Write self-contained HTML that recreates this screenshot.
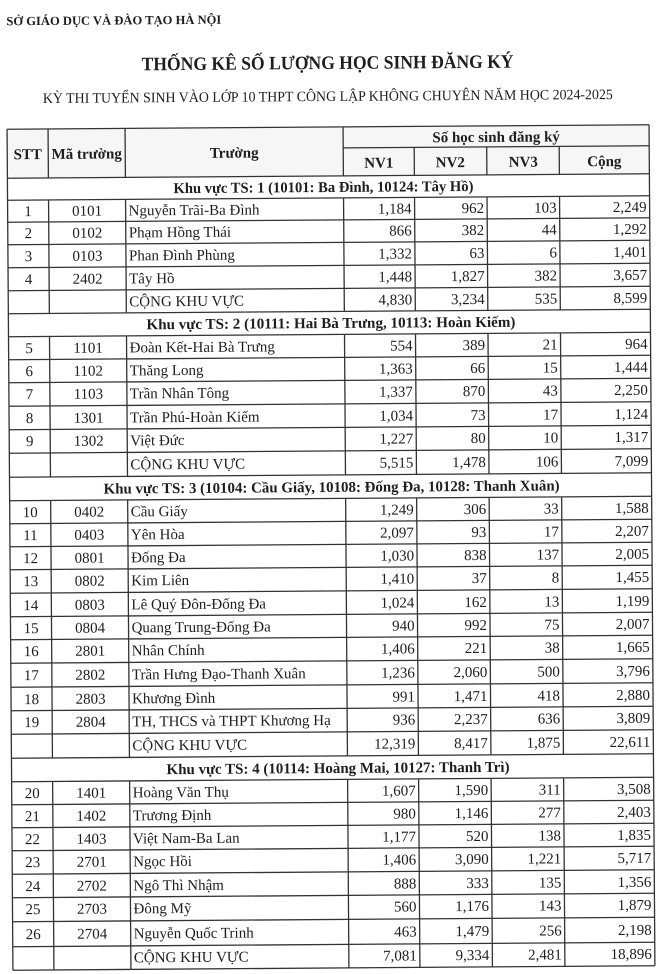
<!DOCTYPE html>
<html><head><meta charset="utf-8">
<style>
html,body{margin:0;padding:0;background:#fff;}
svg{display:block;}
.t{font-family:"Liberation Serif","DejaVu Serif",serif;font-size:15px;fill:#1e1e1e;}
.b{font-weight:bold;}
.r{text-anchor:end;}
.c{text-anchor:middle;}
.ln line{stroke:#333;stroke-width:1.3;}
</style></head>
<body>
<svg width="660" height="974" viewBox="0 0 660 974" xmlns="http://www.w3.org/2000/svg">
<rect width="660" height="974" fill="#fff"/>
<g transform="rotate(-0.4 330 550)">
<text class="t b" x="10" y="23" style="font-size:12.5px" textLength="215" lengthAdjust="spacingAndGlyphs">SỞ GIÁO DỤC VÀ ĐÀO TẠO HÀ NỘI</text>
<text class="t b" x="145" y="69" style="font-size:19px" textLength="372" lengthAdjust="spacingAndGlyphs">THỐNG KÊ SỐ LƯỢNG HỌC SINH ĐĂNG KÝ</text>
<text class="t" x="46" y="101" style="font-size:14.5px" textLength="570" lengthAdjust="spacingAndGlyphs">KỲ THI TUYỂN SINH VÀO LỚP 10 THPT CÔNG LẬP KHÔNG CHUYÊN NĂM HỌC 2024-2025</text>

<rect x="10" y="127" width="642" height="49" fill="#f6f6f6"/>

<g class="ln">
<line x1="10" y1="127" x2="652" y2="127"/>
<line x1="346" y1="148" x2="652" y2="148"/>
<line x1="10" y1="176" x2="652" y2="176"/>
<line x1="10" y1="198" x2="652" y2="198"/>
<line x1="10" y1="220" x2="652" y2="220"/>
<line x1="10" y1="242.5" x2="652" y2="242.5"/>
<line x1="10" y1="265.5" x2="652" y2="265.5"/>
<line x1="10" y1="288.5" x2="652" y2="288.5"/>
<line x1="10" y1="311.5" x2="652" y2="311.5"/>
<line x1="10" y1="334.5" x2="652" y2="334.5"/>
<line x1="10" y1="357.5" x2="652" y2="357.5"/>
<line x1="10" y1="380.5" x2="652" y2="380.5"/>
<line x1="10" y1="404" x2="652" y2="404"/>
<line x1="10" y1="427.5" x2="652" y2="427.5"/>
<line x1="10" y1="451" x2="652" y2="451"/>
<line x1="10" y1="475" x2="652" y2="475"/>
<line x1="10" y1="498.5" x2="652" y2="498.5"/>
<line x1="10" y1="521.5" x2="652" y2="521.5"/>
<line x1="10" y1="544.5" x2="652" y2="544.5"/>
<line x1="10" y1="567.5" x2="652" y2="567.5"/>
<line x1="10" y1="591" x2="652" y2="591"/>
<line x1="10" y1="614.5" x2="652" y2="614.5"/>
<line x1="10" y1="637.5" x2="652" y2="637.5"/>
<line x1="10" y1="661" x2="652" y2="661"/>
<line x1="10" y1="685" x2="652" y2="685"/>
<line x1="10" y1="708.5" x2="652" y2="708.5"/>
<line x1="10" y1="732" x2="652" y2="732"/>
<line x1="10" y1="756" x2="652" y2="756"/>
<line x1="10" y1="779.5" x2="652" y2="779.5"/>
<line x1="10" y1="802.5" x2="652" y2="802.5"/>
<line x1="10" y1="825.5" x2="652" y2="825.5"/>
<line x1="10" y1="848.5" x2="652" y2="848.5"/>
<line x1="10" y1="872" x2="652" y2="872"/>
<line x1="10" y1="895.5" x2="652" y2="895.5"/>
<line x1="10" y1="919.5" x2="652" y2="919.5"/>
<line x1="10" y1="944.5" x2="652" y2="944.5"/>
<line x1="10" y1="968" x2="652" y2="968"/>

<line x1="10" y1="127" x2="10" y2="968"/>
<line x1="652" y1="127" x2="652" y2="968"/>

<line x1="51" y1="127" x2="51" y2="176"/>
<line x1="128" y1="127" x2="128" y2="176"/>
<line x1="346" y1="127" x2="346" y2="176"/>
<line x1="417" y1="148" x2="417" y2="176"/>
<line x1="489.5" y1="148" x2="489.5" y2="176"/>
<line x1="562" y1="148" x2="562" y2="176"/>

<line x1="51" y1="198" x2="51" y2="311.5"/>
<line x1="128" y1="198" x2="128" y2="311.5"/>
<line x1="346" y1="198" x2="346" y2="311.5"/>
<line x1="417" y1="198" x2="417" y2="311.5"/>
<line x1="489.5" y1="198" x2="489.5" y2="311.5"/>
<line x1="562" y1="198" x2="562" y2="311.5"/>

<line x1="51" y1="334.5" x2="51" y2="475"/>
<line x1="128" y1="334.5" x2="128" y2="475"/>
<line x1="346" y1="334.5" x2="346" y2="475"/>
<line x1="417" y1="334.5" x2="417" y2="475"/>
<line x1="489.5" y1="334.5" x2="489.5" y2="475"/>
<line x1="562" y1="334.5" x2="562" y2="475"/>

<line x1="51" y1="498.5" x2="51" y2="756"/>
<line x1="128" y1="498.5" x2="128" y2="756"/>
<line x1="346" y1="498.5" x2="346" y2="756"/>
<line x1="417" y1="498.5" x2="417" y2="756"/>
<line x1="489.5" y1="498.5" x2="489.5" y2="756"/>
<line x1="562" y1="498.5" x2="562" y2="756"/>

<line x1="51" y1="779.5" x2="51" y2="968"/>
<line x1="128" y1="779.5" x2="128" y2="968"/>
<line x1="346" y1="779.5" x2="346" y2="968"/>
<line x1="417" y1="779.5" x2="417" y2="968"/>
<line x1="489.5" y1="779.5" x2="489.5" y2="968"/>
<line x1="562" y1="779.5" x2="562" y2="968"/>
</g>

<!-- Header -->
<text class="t b c" x="30.5" y="157">STT</text>
<text class="t b c" x="89.5" y="157">Mã trường</text>
<text class="t b c" x="237" y="157">Trường</text>
<text class="t b c" x="499" y="143">Số học sinh đăng ký</text>
<text class="t b c" x="381.5" y="168">NV1</text>
<text class="t b c" x="453" y="168">NV2</text>
<text class="t b c" x="526" y="168">NV3</text>
<text class="t b c" x="607" y="168">Cộng</text>

<!-- Section 1 -->
<text class="t b" x="176" y="192" textLength="300" lengthAdjust="spacingAndGlyphs">Khu vực TS: 1 (10101: Ba Đình, 10124: Tây Hồ)</text>

<text class="t c" x="30.5" y="214">1</text><text class="t c" x="89.5" y="214">0101</text><text class="t" x="131" y="214">Nguyễn Trãi-Ba Đình</text>
<text class="t r" x="414" y="214">1,184</text><text class="t r" x="486.5" y="214">962</text><text class="t r" x="559" y="214">103</text><text class="t r" x="649" y="214">2,249</text>

<text class="t c" x="30.5" y="236">2</text><text class="t c" x="89.5" y="236">0102</text><text class="t" x="131" y="236">Phạm Hồng Thái</text>
<text class="t r" x="414" y="236">866</text><text class="t r" x="486.5" y="236">382</text><text class="t r" x="559" y="236">44</text><text class="t r" x="649" y="236">1,292</text>

<text class="t c" x="30.5" y="259">3</text><text class="t c" x="89.5" y="259">0103</text><text class="t" x="131" y="259">Phan Đình Phùng</text>
<text class="t r" x="414" y="259">1,332</text><text class="t r" x="486.5" y="259">63</text><text class="t r" x="559" y="259">6</text><text class="t r" x="649" y="259">1,401</text>

<text class="t c" x="30.5" y="282">4</text><text class="t c" x="89.5" y="282">2402</text><text class="t" x="131" y="282">Tây Hồ</text>
<text class="t r" x="414" y="282">1,448</text><text class="t r" x="486.5" y="282">1,827</text><text class="t r" x="559" y="282">382</text><text class="t r" x="649" y="282">3,657</text>

<text class="t" x="131" y="305">CỘNG KHU VỰC</text>
<text class="t r" x="414" y="305">4,830</text><text class="t r" x="486.5" y="305">3,234</text><text class="t r" x="559" y="305">535</text><text class="t r" x="649" y="305">8,599</text>

<!-- Section 2 -->
<text class="t b" x="148" y="328" textLength="369" lengthAdjust="spacingAndGlyphs">Khu vực TS: 2 (10111: Hai Bà Trưng, 10113: Hoàn Kiếm)</text>

<text class="t c" x="30.5" y="351">5</text><text class="t c" x="89.5" y="351">1101</text><text class="t" x="131" y="351">Đoàn Kết-Hai Bà Trưng</text>
<text class="t r" x="414" y="351">554</text><text class="t r" x="486.5" y="351">389</text><text class="t r" x="559" y="351">21</text><text class="t r" x="649" y="351">964</text>

<text class="t c" x="30.5" y="374">6</text><text class="t c" x="89.5" y="374">1102</text><text class="t" x="131" y="374">Thăng Long</text>
<text class="t r" x="414" y="374">1,363</text><text class="t r" x="486.5" y="374">66</text><text class="t r" x="559" y="374">15</text><text class="t r" x="649" y="374">1,444</text>

<text class="t c" x="30.5" y="397">7</text><text class="t c" x="89.5" y="397">1103</text><text class="t" x="131" y="397">Trần Nhân Tông</text>
<text class="t r" x="414" y="397">1,337</text><text class="t r" x="486.5" y="397">870</text><text class="t r" x="559" y="397">43</text><text class="t r" x="649" y="397">2,250</text>

<text class="t c" x="30.5" y="421">8</text><text class="t c" x="89.5" y="421">1301</text><text class="t" x="131" y="421">Trần Phú-Hoàn Kiếm</text>
<text class="t r" x="414" y="421">1,034</text><text class="t r" x="486.5" y="421">73</text><text class="t r" x="559" y="421">17</text><text class="t r" x="649" y="421">1,124</text>

<text class="t c" x="30.5" y="444">9</text><text class="t c" x="89.5" y="444">1302</text><text class="t" x="131" y="444">Việt Đức</text>
<text class="t r" x="414" y="444">1,227</text><text class="t r" x="486.5" y="444">80</text><text class="t r" x="559" y="444">10</text><text class="t r" x="649" y="444">1,317</text>

<text class="t" x="131" y="468">CỘNG KHU VỰC</text>
<text class="t r" x="414" y="468">5,515</text><text class="t r" x="486.5" y="468">1,478</text><text class="t r" x="559" y="468">106</text><text class="t r" x="649" y="468">7,099</text>

<!-- Section 3 -->
<text class="t b" x="104" y="492" textLength="456" lengthAdjust="spacingAndGlyphs">Khu vực TS: 3 (10104: Cầu Giấy, 10108: Đống Đa, 10128: Thanh Xuân)</text>

<text class="t c" x="30.5" y="515">10</text><text class="t c" x="89.5" y="515">0402</text><text class="t" x="131" y="515">Cầu Giấy</text>
<text class="t r" x="414" y="515">1,249</text><text class="t r" x="486.5" y="515">306</text><text class="t r" x="559" y="515">33</text><text class="t r" x="649" y="515">1,588</text>

<text class="t c" x="30.5" y="538">11</text><text class="t c" x="89.5" y="538">0403</text><text class="t" x="131" y="538">Yên Hòa</text>
<text class="t r" x="414" y="538">2,097</text><text class="t r" x="486.5" y="538">93</text><text class="t r" x="559" y="538">17</text><text class="t r" x="649" y="538">2,207</text>

<text class="t c" x="30.5" y="561">12</text><text class="t c" x="89.5" y="561">0801</text><text class="t" x="131" y="561">Đống Đa</text>
<text class="t r" x="414" y="561">1,030</text><text class="t r" x="486.5" y="561">838</text><text class="t r" x="559" y="561">137</text><text class="t r" x="649" y="561">2,005</text>

<text class="t c" x="30.5" y="584">13</text><text class="t c" x="89.5" y="584">0802</text><text class="t" x="131" y="584">Kim Liên</text>
<text class="t r" x="414" y="584">1,410</text><text class="t r" x="486.5" y="584">37</text><text class="t r" x="559" y="584">8</text><text class="t r" x="649" y="584">1,455</text>

<text class="t c" x="30.5" y="608">14</text><text class="t c" x="89.5" y="608">0803</text><text class="t" x="131" y="608">Lê Quý Đôn-Đống Đa</text>
<text class="t r" x="414" y="608">1,024</text><text class="t r" x="486.5" y="608">162</text><text class="t r" x="559" y="608">13</text><text class="t r" x="649" y="608">1,199</text>

<text class="t c" x="30.5" y="631">15</text><text class="t c" x="89.5" y="631">0804</text><text class="t" x="131" y="631">Quang Trung-Đống Đa</text>
<text class="t r" x="414" y="631">940</text><text class="t r" x="486.5" y="631">992</text><text class="t r" x="559" y="631">75</text><text class="t r" x="649" y="631">2,007</text>

<text class="t c" x="30.5" y="654">16</text><text class="t c" x="89.5" y="654">2801</text><text class="t" x="131" y="654">Nhân Chính</text>
<text class="t r" x="414" y="654">1,406</text><text class="t r" x="486.5" y="654">221</text><text class="t r" x="559" y="654">38</text><text class="t r" x="649" y="654">1,665</text>

<text class="t c" x="30.5" y="678">17</text><text class="t c" x="89.5" y="678">2802</text><text class="t" x="131" y="678">Trần Hưng Đạo-Thanh Xuân</text>
<text class="t r" x="414" y="678">1,236</text><text class="t r" x="486.5" y="678">2,060</text><text class="t r" x="559" y="678">500</text><text class="t r" x="649" y="678">3,796</text>

<text class="t c" x="30.5" y="702">18</text><text class="t c" x="89.5" y="702">2803</text><text class="t" x="131" y="702">Khương Đình</text>
<text class="t r" x="414" y="702">991</text><text class="t r" x="486.5" y="702">1,471</text><text class="t r" x="559" y="702">418</text><text class="t r" x="649" y="702">2,880</text>

<text class="t c" x="30.5" y="725">19</text><text class="t c" x="89.5" y="725">2804</text><text class="t" x="131" y="725">TH, THCS và THPT Khương Hạ</text>
<text class="t r" x="414" y="725">936</text><text class="t r" x="486.5" y="725">2,237</text><text class="t r" x="559" y="725">636</text><text class="t r" x="649" y="725">3,809</text>

<text class="t" x="131" y="749">CỘNG KHU VỰC</text>
<text class="t r" x="414" y="749">12,319</text><text class="t r" x="486.5" y="749">8,417</text><text class="t r" x="559" y="749">1,875</text><text class="t r" x="649" y="749">22,611</text>

<!-- Section 4 -->
<text class="t b" x="165" y="773" textLength="343" lengthAdjust="spacingAndGlyphs">Khu vực TS: 4 (10114: Hoàng Mai, 10127: Thanh Trì)</text>

<text class="t c" x="30.5" y="796">20</text><text class="t c" x="89.5" y="796">1401</text><text class="t" x="131" y="796">Hoàng Văn Thụ</text>
<text class="t r" x="414" y="796">1,607</text><text class="t r" x="486.5" y="796">1,590</text><text class="t r" x="559" y="796">311</text><text class="t r" x="649" y="796">3,508</text>

<text class="t c" x="30.5" y="819">21</text><text class="t c" x="89.5" y="819">1402</text><text class="t" x="131" y="819">Trương Định</text>
<text class="t r" x="414" y="819">980</text><text class="t r" x="486.5" y="819">1,146</text><text class="t r" x="559" y="819">277</text><text class="t r" x="649" y="819">2,403</text>

<text class="t c" x="30.5" y="842">22</text><text class="t c" x="89.5" y="842">1403</text><text class="t" x="131" y="842">Việt Nam-Ba Lan</text>
<text class="t r" x="414" y="842">1,177</text><text class="t r" x="486.5" y="842">520</text><text class="t r" x="559" y="842">138</text><text class="t r" x="649" y="842">1,835</text>

<text class="t c" x="30.5" y="865">23</text><text class="t c" x="89.5" y="865">2701</text><text class="t" x="131" y="865">Ngọc Hồi</text>
<text class="t r" x="414" y="865">1,406</text><text class="t r" x="486.5" y="865">3,090</text><text class="t r" x="559" y="865">1,221</text><text class="t r" x="649" y="865">5,717</text>

<text class="t c" x="30.5" y="889">24</text><text class="t c" x="89.5" y="889">2702</text><text class="t" x="131" y="889">Ngô Thì Nhậm</text>
<text class="t r" x="414" y="889">888</text><text class="t r" x="486.5" y="889">333</text><text class="t r" x="559" y="889">135</text><text class="t r" x="649" y="889">1,356</text>

<text class="t c" x="30.5" y="912">25</text><text class="t c" x="89.5" y="912">2703</text><text class="t" x="131" y="912">Đông Mỹ</text>
<text class="t r" x="414" y="912">560</text><text class="t r" x="486.5" y="912">1,176</text><text class="t r" x="559" y="912">143</text><text class="t r" x="649" y="912">1,879</text>

<text class="t c" x="30.5" y="937">26</text><text class="t c" x="89.5" y="937">2704</text><text class="t" x="131" y="937">Nguyễn Quốc Trinh</text>
<text class="t r" x="414" y="937">463</text><text class="t r" x="486.5" y="937">1,479</text><text class="t r" x="559" y="937">256</text><text class="t r" x="649" y="937">2,198</text>

<text class="t" x="131" y="961">CỘNG KHU VỰC</text>
<text class="t r" x="414" y="961">7,081</text><text class="t r" x="486.5" y="961">9,334</text><text class="t r" x="559" y="961">2,481</text><text class="t r" x="649" y="961">18,896</text>
</g>
</svg>
</body></html>
